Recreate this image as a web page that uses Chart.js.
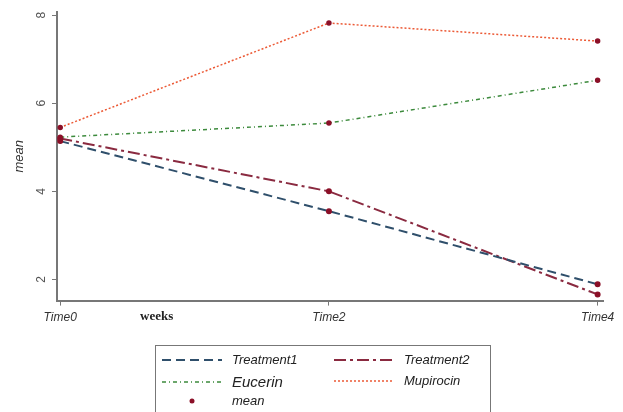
<!DOCTYPE html>
<html>
<head>
<meta charset="utf-8">
<script src="https://cdn.jsdelivr.net/npm/chart.js@4/dist/chart.umd.min.js"></script>
<style>
  html, body { margin:0; padding:0; background:#fff; }
  #wrap { position:relative; width:623px; height:412px; }
  #weeks { position:absolute; left:140px; top:308px; font:bold 13px "Liberation Serif", serif; color:#222; }
  #legend { position:absolute; left:155px; top:345px; width:334px; height:80px; border:1px solid #777;
            font:italic 13px "Liberation Sans", Arial, sans-serif; color:#222; }
  .li { position:absolute; display:flex; align-items:center; }
  .li svg { margin-right:10px; }
</style>
</head>
<body>
<div id="wrap">
  <canvas id="c" width="623" height="412"></canvas>
  <div id="weeks">weeks</div>
  <div id="legend"></div>
</div>
<script>
// ── Data ──────────────────────────────
const TIMES      = ['Time0', 'Time2', 'Time4'];
const TREATMENT1 = [5.14, 3.55, 1.89];
const TREATMENT2 = [5.20, 4.00, 1.66];
const EUCERIN    = [5.23, 5.55, 6.52];
const MUPIROCIN  = [5.45, 7.82, 7.41];
const Y_TICKS    = [2, 4, 6, 8];

const MEAN_COL = '#8b1028';

const SERIES = [
    { label:'Treatment1', data:TREATMENT1, color:'#2f4f6b', dash:[9,5],        width:2 },
    { label:'Treatment2', data:TREATMENT2, color:'#8a2a40', dash:[12,4,3,4],   width:2 },
    { label:'Eucerin',    data:EUCERIN,    color:'#3c8a3c', dash:[4,3,1,3],    width:1.5 },
    { label:'Mupirocin',  data:MUPIROCIN,  color:'#ec5a36', dash:[2,2],        width:1.5 },
];

const pts = arr => arr.map((v, i) => ({ x:i, y:v }));

// rotated y tick labels, drawn from the scale
const yLabels = {
    id: 'yLabels',
    afterDraw(chart) {
        const { ctx, scales:{ y } } = chart;
        ctx.save();
        ctx.fillStyle = '#555';
        ctx.font = '12px "Liberation Sans", Arial, sans-serif';
        ctx.textAlign = 'center';
        ctx.textBaseline = 'bottom';
        Y_TICKS.forEach(t => {
            ctx.save();
            ctx.translate(y.right - 9, y.getPixelForValue(t));
            ctx.rotate(-Math.PI / 2);
            ctx.fillText(String(t), 0, 0);
            ctx.restore();
        });
        ctx.restore();
    },
};

new Chart(document.getElementById('c'), {
    type: 'line',
    data: {
        datasets: SERIES.map(s => ({
            label:            s.label,
            data:             pts(s.data),
            borderColor:      s.color,
            borderDash:       s.dash,
            borderWidth:      s.width,
            pointRadius:      2,
            pointBackgroundColor: MEAN_COL,
            pointBorderColor: MEAN_COL,
            tension:          0,
        })),
    },
    options: {
        responsive: false,
        animation:  false,
        layout: { padding: { left: 12, right: 20, top: 12, bottom: 82 } },
        plugins: { legend: { display:false }, tooltip: { enabled:false } },
        scales: {
            x: {
                type: 'linear',
                min: -0.012, max: 2.02,
                afterBuildTicks: s => { s.ticks = [0, 1, 2].map(v => ({ value:v })); },
                ticks: {
                    color: '#333',
                    font: { size:12, style:'italic', family:'"Liberation Sans", Arial' },
                    padding: 5,
                    maxRotation: 0,
                    callback: v => TIMES[v],
                },
                grid:   { drawOnChartArea:false, color:'#777', tickLength:5 },
                border: { color:'#777', width:2 },
            },
            y: {
                min: 1.52, max: 8.07,
                afterBuildTicks: s => { s.ticks = Y_TICKS.map(v => ({ value:v })); },
                ticks:  { display:false },
                afterFit: s => { s.width = 45; },
                title: {
                    display: true, text: 'mean', color: '#333',
                    font: { size:13, style:'italic', family:'"Liberation Sans", Arial' },
                    padding: 0,
                },
                grid:   { drawOnChartArea:false, color:'#777', tickLength:5 },
                border: { color:'#777', width:2 },
            },
        },
    },
    plugins: [yLabels],
});

// ── custom legend ──
const legendItems = [
    { s:SERIES[0], x:6,   y:6  },
    { s:SERIES[1], x:178, y:6  },
    { s:SERIES[2], x:6,   y:27, big:true },
    { s:SERIES[3], x:178, y:27 },
];
const lg = document.getElementById('legend');
lg.innerHTML = legendItems.map(it => `
    <div class="li" style="left:${it.x}px;top:${it.y}px">
        <svg width="60" height="10"><line x1="0" y1="5" x2="60" y2="5" stroke="${it.s.color}"
            stroke-width="${it.s.width}" stroke-dasharray="${it.s.dash.join(' ')}"/></svg>
        <span style="${it.big ? 'font-size:15px' : ''}">${it.s.label}</span>
    </div>`).join('') + `
    <div class="li" style="left:6px;top:47px">
        <svg width="60" height="10"><circle cx="30" cy="5" r="2.5" fill="${MEAN_COL}"/></svg>
        <span>mean</span>
    </div>`;
</script>
</body>
</html>
